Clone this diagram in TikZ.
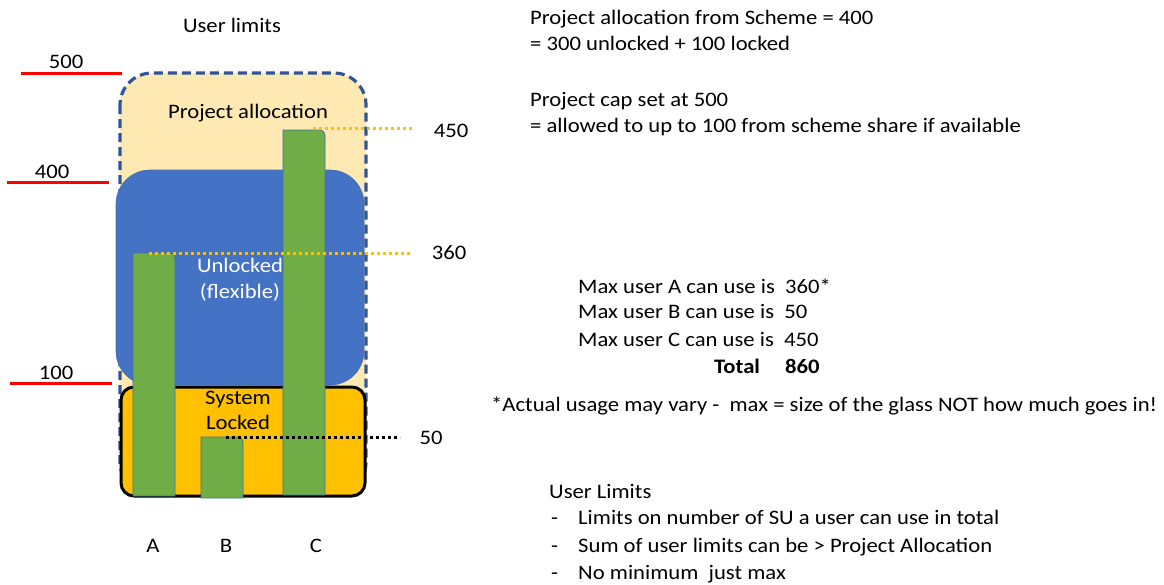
\documentclass[tikz,border=0pt]{standalone}
\usepackage{fontspec}
\setmainfont{Carlito}[FakeStretch=1.1]
\definecolor{capfill}{HTML}{FFE9B3}
\definecolor{capline}{HTML}{2F5597}
\definecolor{unlk}{HTML}{4472C4}
\definecolor{lockf}{HTML}{FFC000}
\definecolor{barg}{HTML}{70AD47}
\definecolor{barl}{HTML}{41719C}
\definecolor{dotor}{HTML}{FFC000}
\begin{document}
\begin{tikzpicture}[x=1pt,y=-1pt,
  txt/.style={inner sep=0pt,text height=0.66em,text depth=0.2em,yshift=-4.5pt,font=\fontsize{20.6}{25}\selectfont},
  ltxt/.style={txt,anchor=west},
  redline/.style={red,line width=3pt},
  bar/.style={fill=barg,draw=barl,line width=0.8pt},
  dotline/.style={line width=3pt,dash pattern=on 3pt off 3pt},
]
\useasboundingbox (0,0) rectangle (1164,584);
% project allocation (cap)
\draw[fill=capfill,draw=capline,line width=3.2pt,dash pattern=on 9pt off 5pt,rounded corners=32pt]
  (120,73) rectangle (366,494);
\node[txt] (pa) at (248,112) {Project allocation};
% unlocked
\fill[unlk,rounded corners=34pt] (116,170) rectangle (364,385);
\draw[barl!60!unlk,line width=0.6pt,rounded corners=34pt] (116,170) rectangle (364,385);
\node[txt,white] (unl1) at (240,266) {Unlocked};
\node[txt,white] (unl2) at (240,292) {(flexible)};
% locked
\draw[fill=lockf,draw=black,line width=3pt,rounded corners=13pt] (121,387) rectangle (365,496);
\node[txt] (lck1) at (238,398) {System};
\node[txt] (lck2) at (238,423) {Locked};
% bars
\draw[bar] (133,496) -- (133,253) -- (170,253) [rounded corners=5pt] -- (175,253) -- (175,300) [sharp corners] -- (175,496) -- cycle;
\draw[bar] (201,498) -- (201,437) -- (238,437) [rounded corners=5pt] -- (243,437) -- (243,470) [sharp corners] -- (243,498) -- cycle;
\draw[bar] (283,495) -- (283,130) -- (320,130) [rounded corners=5pt] -- (325,130) -- (325,170) [sharp corners] -- (325,495) -- cycle;
\coordinate (topA) at (149,253);
\coordinate (topB) at (226,437);
\coordinate (topC) at (313,128);
% labels of levels
\node[txt] (v450) at (451,131) {450};
\node[txt] (v360) at (449,253) {360};
\node[txt] (v50) at (431,438) {50};
\draw[dotline,dotor] (topC) -- (413,128);
\draw[dotline,dotor] (topA) -- (413,253);
\draw[dotline,black] (topB) -- (400,437);
% user limits scale
\node[txt] (ul) at (232,26) {User limits};
\node[txt] (l500) at (66,62) {500};
\node[txt] (l400) at (52,172) {400};
\node[txt] (l100) at (56,373) {100};
\coordinate (r500a) at (21,73); \coordinate (r500b) at (122,73);
\coordinate (r400a) at (7,182); \coordinate (r400b) at (109,182);
\coordinate (r100a) at (10,383); \coordinate (r100b) at (112,383);
\draw[redline] (r500a) -- (r500b);
\draw[redline] (r400a) -- (r400b);
\draw[redline] (r100a) -- (r100b);
% user names
\node[txt] (uA) at (153,546) {A};
\node[txt] (uB) at (226,546) {B};
\node[txt] (uC) at (316,546) {C};
% right-hand text
\node[ltxt] (t1) at (530,18) {Project allocation from Scheme = 400};
\node[ltxt] (t2) at (530,44) {= 300 unlocked + 100 locked};
\node[ltxt] (t3) at (530,100) {Project cap set at 500};
\node[ltxt] (t4) at (530,126) {= allowed to up to 100 from scheme share if available};
\node[ltxt] (m1) at (578,287) {Max user A can use is\ \ 360*};
\node[ltxt] (m2) at (578,312) {Max user B can use is\ \ 50};
\node[ltxt] (m3) at (578,340) {Max user C can use is\ \ 450};
\node[ltxt,font=\fontsize{20.6}{25}\selectfont\bfseries] (tot) at (714,367) {Total};
\node[ltxt,font=\fontsize{20.6}{25}\selectfont\bfseries] (totn) at (785,367) {860};
\node[ltxt] (note) at (491,405) {*Actual usage may vary -\ \ max = size of the glass NOT how much goes in!};
\node[ltxt] (ulh) at (549,492) {User Limits};
\node[ltxt] (d1) at (551,518) {-};
\node[ltxt] (b1) at (578,518) {Limits on number of SU a user can use in total};
\node[ltxt] (d2) at (551,546) {-};
\node[ltxt] (b2) at (578,546) {Sum of user limits can be > Project Allocation};
\node[ltxt] (d3) at (551,573) {-};
\node[ltxt] (b3) at (578,573) {No minimum\ \ just max};
\end{tikzpicture}
\end{document}
